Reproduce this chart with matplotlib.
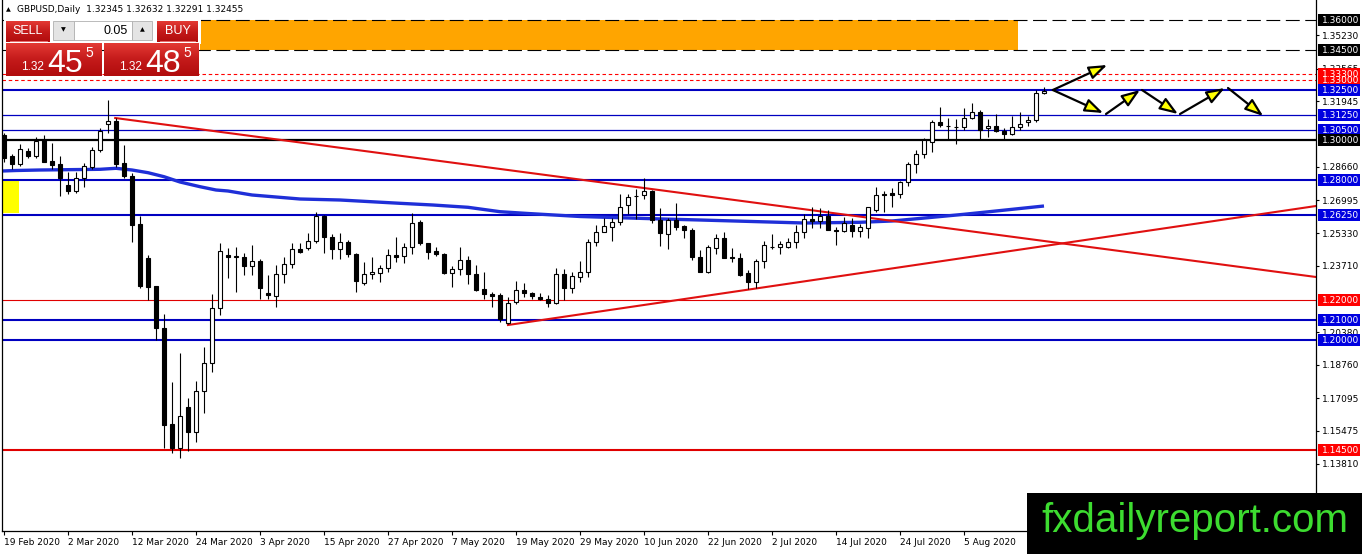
import numpy as np
import matplotlib
matplotlib.use("Agg")
import matplotlib.pyplot as plt
from matplotlib.patches import Rectangle
from matplotlib.colors import LinearSegmentedColormap

plt.rcParams['lines.scale_dashes'] = False

# --- candles (one per trading day, 19 Feb 2020 onwards) ---
opens = [1.3025, 1.2920, 1.2880, 1.2945, 1.2920, 1.3000, 1.2895, 1.2880, 1.2775, 1.2745,
         1.2810, 1.2865, 1.2950, 1.3080, 1.3095, 1.2885, 1.2820, 1.2580, 1.2410, 1.2270,
         1.2060, 1.1580, 1.1460, 1.1665, 1.1540, 1.1745, 1.1885, 1.2160, 1.2425, 1.2415,
         1.2415, 1.2370, 1.2395, 1.2235, 1.2220, 1.2330, 1.2380, 1.2455, 1.2460, 1.2495,
         1.2620, 1.2515, 1.2455, 1.2490, 1.2430, 1.2285, 1.2330, 1.2335, 1.2360, 1.2425,
         1.2420, 1.2465, 1.2590, 1.2485, 1.2445, 1.2430, 1.2335, 1.2355, 1.2400, 1.2330,
         1.2255, 1.2230, 1.2225, 1.2085, 1.2190, 1.2250, 1.2235, 1.2215, 1.2205, 1.2185,
         1.2330, 1.2260, 1.2315, 1.2340, 1.2490, 1.2540, 1.2565, 1.2590, 1.2675, 1.2718,
         1.2725, 1.2745, 1.2600, 1.2530, 1.2600, 1.2570, 1.2550, 1.2415, 1.2340, 1.2460,
         1.2510, 1.2415, 1.2410, 1.2335, 1.2290, 1.2395, 1.2465, 1.2465, 1.2465, 1.2490,
         1.2540, 1.2605, 1.2595, 1.2620, 1.2550, 1.2545, 1.2575, 1.2545, 1.2560, 1.2650,
         1.2730, 1.2735, 1.2730, 1.2790, 1.2880, 1.2930, 1.2990, 1.3090, 1.3070, 1.3065,
         1.3065, 1.3110, 1.3140, 1.3060, 1.3070, 1.3045, 1.3030, 1.3065, 1.3090, 1.3100,
         1.32345]
highs = [1.3035, 1.2930, 1.2980, 1.2960, 1.3015, 1.3025, 1.2985, 1.2920, 1.2840, 1.2840,
         1.2885, 1.2965, 1.3060, 1.3200, 1.3110, 1.2975, 1.2835, 1.2620, 1.2425, 1.2270,
         1.2130, 1.1790, 1.1935, 1.1710, 1.1795, 1.1965, 1.2230, 1.2485, 1.2460, 1.2465,
         1.2435, 1.2475, 1.2405, 1.2325, 1.2375, 1.2415, 1.2485, 1.2485, 1.2535, 1.2640,
         1.2625, 1.2530, 1.2535, 1.2500, 1.2435, 1.2390, 1.2415, 1.2375, 1.2455, 1.2515,
         1.2485, 1.2635, 1.2600, 1.2485, 1.2465, 1.2435, 1.2370, 1.2465, 1.2420, 1.2375,
         1.2340, 1.2240, 1.2235, 1.2215, 1.2295, 1.2285, 1.2240, 1.2235, 1.2225, 1.2360,
         1.2355, 1.2340, 1.2395, 1.2505, 1.2575, 1.2610, 1.2610, 1.2730, 1.2730, 1.2755,
         1.2810, 1.2750, 1.2660, 1.2610, 1.2685, 1.2575, 1.2560, 1.2450, 1.2475, 1.2530,
         1.2540, 1.2460, 1.2435, 1.2350, 1.2405, 1.2495, 1.2530, 1.2495, 1.2510, 1.2575,
         1.2630, 1.2665, 1.2660, 1.2650, 1.2565, 1.2615, 1.2610, 1.2580, 1.2665, 1.2765,
         1.2745, 1.2760, 1.2795, 1.2890, 1.2950, 1.3010, 1.3100, 1.3165, 1.3110, 1.3105,
         1.3160, 1.3185, 1.3150, 1.3105, 1.3130, 1.3060, 1.3120, 1.3140, 1.3120, 1.3250,
         1.32632]
lows = [1.2890, 1.2855, 1.2870, 1.2910, 1.2910, 1.2890, 1.2855, 1.2720, 1.2730, 1.2735,
        1.2765, 1.2855, 1.2940, 1.3035, 1.2865, 1.2810, 1.2490, 1.2260, 1.2200, 1.2000,
        1.1460, 1.1435, 1.1410, 1.1445, 1.1490, 1.1635, 1.1840, 1.2125, 1.2310, 1.2240,
        1.2325, 1.2325, 1.2205, 1.2205, 1.2165, 1.2285, 1.2360, 1.2435, 1.2450, 1.2485,
        1.2435, 1.2405, 1.2405, 1.2415, 1.2240, 1.2275, 1.2305, 1.2290, 1.2340, 1.2390,
        1.2385, 1.2430, 1.2475, 1.2405, 1.2420, 1.2330, 1.2265, 1.2325, 1.2280, 1.2245,
        1.2205, 1.2165, 1.2090, 1.2080, 1.2180, 1.2215, 1.2205, 1.2200, 1.2165, 1.2180,
        1.2200, 1.2235, 1.2290, 1.2315, 1.2470, 1.2540, 1.2495, 1.2575, 1.2630, 1.2605,
        1.2705, 1.2585, 1.2470, 1.2455, 1.2550, 1.2510, 1.2400, 1.2340, 1.2335, 1.2430,
        1.2410, 1.2390, 1.2320, 1.2255, 1.2260, 1.2360, 1.2455, 1.2430, 1.2460, 1.2460,
        1.2510, 1.2560, 1.2560, 1.2550, 1.2475, 1.2540, 1.2515, 1.2515, 1.2510, 1.2640,
        1.2640, 1.2665, 1.2710, 1.2770, 1.2835, 1.2910, 1.2940, 1.3065, 1.3005, 1.2980,
        1.3050, 1.3105, 1.3005, 1.3015, 1.3040, 1.3005, 1.3025, 1.3050, 1.3070, 1.3090,
        1.32291]
closes = [1.2910, 1.2880, 1.2955, 1.2920, 1.2995, 1.2890, 1.2875, 1.2810, 1.2745, 1.2810,
          1.2870, 1.2950, 1.3045, 1.3095, 1.2880, 1.2820, 1.2575, 1.2270, 1.2265, 1.2060,
          1.1575, 1.1460, 1.1620, 1.1540, 1.1745, 1.1885, 1.2160, 1.2445, 1.2415, 1.2418,
          1.2370, 1.2395, 1.2260, 1.2225, 1.2330, 1.2380, 1.2455, 1.2440, 1.2495, 1.2620,
          1.2515, 1.2455, 1.2490, 1.2430, 1.2295, 1.2330, 1.2340, 1.2360, 1.2425, 1.2415,
          1.2465, 1.2585, 1.2485, 1.2440, 1.2430, 1.2335, 1.2355, 1.2400, 1.2330, 1.2250,
          1.2230, 1.2220, 1.2105, 1.2185, 1.2250, 1.2235, 1.2220, 1.2205, 1.2185, 1.2330,
          1.2260, 1.2320, 1.2340, 1.2490, 1.2540, 1.2570, 1.2590, 1.2665, 1.2715, 1.2722,
          1.2745, 1.2600, 1.2535, 1.2600, 1.2565, 1.2550, 1.2415, 1.2340, 1.2465, 1.2510,
          1.2410, 1.2410, 1.2325, 1.2290, 1.2395, 1.2475, 1.2467, 1.2480, 1.2490, 1.2540,
          1.2605, 1.2595, 1.2620, 1.2550, 1.2547, 1.2585, 1.2545, 1.2565, 1.2665, 1.2725,
          1.2725, 1.2725, 1.2790, 1.2880, 1.2930, 1.3000, 1.3090, 1.3075, 1.3072, 1.3067,
          1.3110, 1.3140, 1.3050, 1.3070, 1.3045, 1.3030, 1.3065, 1.3080, 1.3100, 1.3235,
          1.32455]

# moving average (bar index, price)
ma_idx = [-0.25, 1.5, 4.5, 12, 14, 16, 18, 20, 22, 24.5, 26.5, 28, 31, 37, 42, 49.5, 53.6,
          58, 62, 65.5, 72, 81, 87, 100, 107, 111, 115.5, 120, 124, 130]
ma_val = [1.2845, 1.28475, 1.2850, 1.28535, 1.28585, 1.2850, 1.28365, 1.28165, 1.2790,
          1.27665, 1.2750, 1.2745, 1.2725, 1.2705, 1.2700, 1.26835, 1.2675, 1.26635, 1.26415,
          1.26325, 1.26175, 1.26065, 1.2600, 1.2585, 1.25885, 1.2595, 1.26115, 1.26285,
          1.2645, 1.2670]

date_idx = list(range(0, 121, 8))
date_labels = ["19 Feb 2020", "2 Mar 2020", "12 Mar 2020", "24 Mar 2020", "3 Apr 2020",
               "15 Apr 2020", "27 Apr 2020", "7 May 2020", "19 May 2020", "29 May 2020",
               "10 Jun 2020", "22 Jun 2020", "2 Jul 2020", "14 Jul 2020", "24 Jul 2020",
               "5 Aug 2020"]

price_ticks = [1.35230, 1.33565, 1.31945, 1.28660, 1.26995, 1.25330, 1.23710, 1.20380,
               1.18760, 1.17095, 1.15475, 1.13810, 1.12145]

# horizontal levels: price, colour, width, style
levels = [
    (1.3600, 'black', 0.8, 'dash'), (1.3450, 'black', 0.8, 'dash'),
    (1.3330, '#ff0000', 0.8, 'dot'), (1.3300, '#ff0000', 0.8, 'dot'),
    (1.3250, '#0000c0', 1.5, 'solid'), (1.3125, '#0000c0', 0.9, 'solid'),
    (1.3050, '#0000c0', 0.9, 'solid'), (1.3000, 'black', 1.6, 'solid'),
    (1.2800, '#0000c0', 1.5, 'solid'), (1.2625, '#0000c0', 1.5, 'solid'),
    (1.2200, '#e00000', 0.8, 'solid'), (1.2100, '#0000c0', 1.5, 'solid'),
    (1.2000, '#0000c0', 1.5, 'solid'), (1.1450, '#e00000', 1.5, 'solid'),
]
# price-box labels on the right axis (drawn in this order)
boxes = [(1.36000, 'black'), (1.34500, 'black'), (1.33000, '#ff0000'), (1.33300, '#ff0000'),
         (1.32500, '#0000e0'), (1.31250, '#0000e0'), (1.30500, '#0000e0'), (1.30000, 'black'),
         (1.28000, '#0000e0'), (1.26250, '#0000e0'), (1.22000, '#ff0000'),
         (1.21000, '#0000e0'), (1.20000, '#0000e0'), (1.14500, '#ff0000')]

trend_down = ([13.9, 164], [1.3110, 1.2315])
trend_up = ([63, 164], [1.2075, 1.2670])

# projected path arrows (start index, start price, end index, end price)
arrows = [(131.1, 1.3250, 137.9, 1.3375), (131.1, 1.3250, 137.4, 1.3135),
          (137.75, 1.3130, 142.0, 1.3250), (142.25, 1.3250, 146.75, 1.3130),
          (147.0, 1.3130, 152.6, 1.3260), (153.0, 1.3260, 157.4, 1.3120)]

W, H = 1362, 554
fig = plt.figure(figsize=(W / 100, H / 100), dpi=100)
ax = fig.add_axes([2 / W, 23 / H, 1314 / W, 531 / H])
ax.set_xlim(-0.25, 164)
ax.set_ylim(1.1045, 1.37)

# zones
ax.add_patch(Rectangle((24.5, 1.345), 102.25, 0.015, fc='#ffa500', ec='none', zorder=0.5))
ax.add_patch(Rectangle((-0.125, 1.2635), 2.0, 0.0165, fc='#ffff00', ec='none', zorder=0.5))

for p, col, lw, st in levels:
    if st == 'dash':
        ax.axhline(p, color=col, lw=lw, dashes=(10, 4), zorder=1)
    elif st == 'dot':
        ax.axhline(p, color=col, lw=lw, dashes=(2.5, 2), zorder=1)
    else:
        ax.axhline(p, color=col, lw=lw, zorder=1)

ax.plot(ma_idx, ma_val, color='#1f2fd8', lw=2.4, zorder=1.5, solid_capstyle='butt')
ax.plot(*trend_down, color='#e01010', lw=1.5, zorder=1.6)
ax.plot(*trend_up, color='#e01010', lw=1.5, zorder=1.6)

idx = np.arange(len(opens))
o = np.array(opens)
c = np.array(closes)
ax.vlines(idx, lows, highs, color='black', lw=0.8, zorder=2)
bull = c >= o
bottom = np.minimum(o, c)
height = np.maximum(np.abs(c - o), 0.0002)
ax.bar(idx[bull], height[bull], bottom=bottom[bull], width=0.62, color='white',
       edgecolor='black', lw=0.8, zorder=3)
ax.bar(idx[~bull], height[~bull], bottom=bottom[~bull], width=0.62, color='black',
       edgecolor='black', lw=0.8, zorder=3)

for x0, y0, x1, y1 in arrows:
    ax.annotate('', xy=(x1, y1), xytext=(x0, y0),
                arrowprops=dict(arrowstyle='-|>,head_length=1.1,head_width=0.4',
                                fc='#ffff00', ec='black', lw=1.6,
                                shrinkA=0, shrinkB=0), zorder=5)

# axes styling
for s in ['top']:
    ax.spines[s].set_visible(False)
for s in ['left', 'right', 'bottom']:
    ax.spines[s].set_linewidth(0.9)
ax.yaxis.tick_right()
ax.set_yticks(price_ticks)
ax.set_yticklabels(['%.5f' % v for v in price_ticks])
ax.tick_params(axis='y', length=2.5, width=0.8, pad=1.5, labelsize=6.5)
ax.set_xticks(date_idx)
ax.set_xticklabels(date_labels, ha='left')
ax.tick_params(axis='x', length=3, width=0.8, pad=2, labelsize=6.5)

for p, col in boxes:
    ax.add_patch(Rectangle((164.25, p - 0.0028), 5.3, 0.0056, fc=col, ec='none',
                           clip_on=False, zorder=6))
    ax.text(164.75, p, '%.5f' % p, color='white', fontsize=6.5, va='center', ha='left',
            clip_on=False, zorder=7)

# overlay: header, trade panel, watermark (pixel coordinates)
ov = fig.add_axes([0, 0, 1, 1], zorder=10)
ov.patch.set_visible(False)
ov.axis('off')

ov.text(6, 9.5, '▲', fontsize=4.5, va='center', ha='left')
ov.text(17, 9.5, 'GBPUSD,Daily  1.32345 1.32632 1.32291 1.32455', fontsize=6.5,
        va='center', ha='left')

ov.add_patch(Rectangle((4, 17), 197, 27, fc='white', ec='none'))
red = LinearSegmentedColormap.from_list('r', ['#e33a34', '#c41a1a', '#b10c0d'])
grad = np.linspace(0, 1, 64).reshape(-1, 1)
for x0, x1, y0, y1 in [(6, 50, 21, 42), (157, 198, 21, 42), (6, 102, 43, 76), (104, 199, 43, 76)]:
    ov.imshow(grad, cmap=red, extent=(x0, x1, y1, y0), aspect='auto', zorder=2)
ov.plot([10, 47], [40.5, 40.5], color='#f08080', lw=0.6, zorder=3)
ov.plot([160, 195], [40.5, 40.5], color='#f08080', lw=0.6, zorder=3)
ov.add_patch(Rectangle((53, 21), 21, 19, fc='#e4e4e4', ec='#b0b0b0', lw=0.6, zorder=2))
ov.add_patch(Rectangle((74, 21), 58, 19, fc='white', ec='#b0b0b0', lw=0.6, zorder=2))
ov.add_patch(Rectangle((132, 21), 20, 19, fc='#e4e4e4', ec='#b0b0b0', lw=0.6, zorder=2))
ov.text(63.5, 30, '▼', fontsize=4.5, ha='center', va='center', zorder=4)
ov.text(142, 30, '▲', fontsize=4.5, ha='center', va='center', zorder=4)
ov.text(128, 31, '0.05', fontsize=9, ha='right', va='center', family='Liberation Sans', zorder=4)
ov.text(28, 31, 'SELL', fontsize=9, ha='center', va='center', color='white',
        family='Liberation Sans', zorder=4)
ov.text(177.5, 31, 'BUY', fontsize=9, ha='center', va='center', color='white',
        family='Liberation Sans', zorder=4)
for xr, big in [(44, '45'), (142, '48')]:
    ov.text(xr, 70, '1.32', fontsize=8.5, ha='right', va='baseline', color='white',
            family='Liberation Sans', zorder=4)
    ov.text(xr + 3, 72, big, fontsize=23, ha='left', va='baseline', color='white',
            family='Liberation Sans', zorder=4)
    ov.text(xr + 41, 57, '5', fontsize=10, ha='left', va='baseline', color='white',
            family='Liberation Sans', zorder=4)

ov.add_patch(Rectangle((1027, 493), 335, 61, fc='black', ec='none', zorder=5))
ov.text(1195, 521, 'fxdailyreport.com', fontsize=29, color='#3ddc30', ha='center',
        va='center', family='Liberation Sans', zorder=6)

ov.set_xlim(0, W)
ov.set_ylim(H, 0)

fig.savefig('out.png', dpi=100)
